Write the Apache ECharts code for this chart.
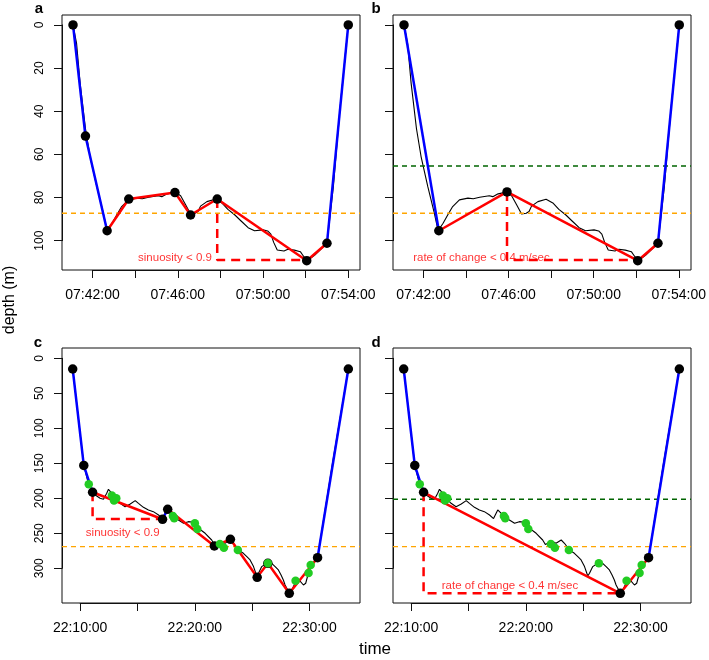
<!DOCTYPE html>
<html><head><meta charset="utf-8">
<script src="https://cdn.jsdelivr.net/npm/echarts@6/dist/echarts.min.js"></script>
<style>html,body{margin:0;padding:0;background:#fff}#c{width:709px;height:660px}</style>
</head><body><div id="c"></div>
<script>
// ---------- Dive 1 (panels a, b) ----------
const dive1TraceTime = ['07:41:05','07:41:15','07:41:25','07:41:40','07:41:53','07:42:12','07:42:30','07:42:41','07:42:55','07:43:08','07:43:22','07:43:41','07:44:05','07:44:20','07:44:38','07:45:05','07:45:15','07:45:30','07:45:53','07:46:08','07:46:22','07:46:36','07:46:49','07:46:57','07:47:04','07:47:22','07:47:45','07:48:04','07:48:21','07:48:40','07:48:59','07:49:18','07:49:36','07:50:00','07:50:13','07:50:22','07:50:30','07:50:40','07:50:59','07:51:10','07:51:28','07:51:45','07:51:54','07:52:04','07:52:25','07:52:44','07:53:00','07:53:18','07:53:36','07:54:00'];
const dive1TraceDepth = [0,8.5,27,48,61,75,87,95.4,91.9,88.1,84.2,81.1,80.3,80.6,79.9,79.2,79.6,78.3,77.5,79.2,83.4,87.6,87.3,86.5,84,81.9,80.8,82.5,85.5,88,91,94,95.4,95,95.5,97,100.8,104.3,104.8,104.0,104.4,105.1,107.2,109.3,106.8,103.8,101.2,75,40,0];
const aPointTime  = ['07:41:05','07:41:40','07:42:41','07:43:42','07:45:52','07:46:36','07:47:51','07:52:03','07:53:00','07:54:00'];
const aPointDepth = [0,51.5,95.4,80.7,77.7,88.1,80.7,109.3,101.2,0];
const bPointTime  = ['07:41:05','07:42:43','07:45:55','07:52:03','07:53:00','07:54:00'];
const bPointDepth = [0,95.4,77.4,109.3,101.2,0];
const dive1Orange = 87.3;
const bGreenLine = 65.4;

// ---------- Dive 2 (panels c, d) ----------
const dive2TraceTime = ['22:09:21','22:10:19','22:10:42','22:11:05','22:11:19','22:11:44','22:12:02','22:12:19','22:12:28','22:12:46','22:13:03','22:13:29','22:13:55','22:14:22','22:14:48','22:15:05','22:15:31','22:15:57','22:16:23','22:16:32','22:16:50','22:17:11','22:17:33','22:17:42','22:18:08','22:18:34','22:19:01','22:19:26','22:19:53','22:20:19','22:20:54','22:21:28','22:21:42','22:21:55','22:22:21','22:22:38','22:23:05','22:23:22','22:23:48','22:24:14','22:24:32','22:24:49','22:25:07','22:25:24','22:25:33','22:25:50','22:26:16','22:26:42','22:27:00','22:27:17','22:27:31','22:27:43','22:27:52','22:28:01','22:28:14','22:28:27','22:28:44','22:29:05','22:29:28','22:29:40','22:29:54','22:30:11','22:30:42','22:32:00','22:33:23'];
const dive2TraceDepth = [15.3,153,178,191.4,195.3,200,201.5,192.9,187.2,192.9,200,207.2,212,208.1,203.4,207.2,212.9,216.7,219.1,216.7,223.9,229,216.7,219.1,226.3,231,235.7,233.4,234.3,242.9,250,259.6,266,264.3,262,264.3,259.6,264.3,273.9,278.6,283.4,288.1,297.6,311,307.1,297.6,292.9,292.9,297.6,302.4,309.6,316.7,323.9,328.6,335.7,331,321.4,316.7,323.9,321.4,307.1,295.6,284.9,150,15.3];
const cPointTime  = ['22:09:21','22:10:19','22:11:05','22:17:11','22:17:38','22:21:42','22:23:06','22:25:26','22:26:22','22:28:14','22:30:42','22:33:23'];
const cPointDepth = [15.3,153,191.4,230,215.7,268.1,258.6,312.9,292.9,335.7,284.9,15.3];
const dPointTime  = ['22:09:21','22:10:19','22:11:05','22:28:14','22:30:42','22:33:23'];
const dPointDepth = [15.3,153,191.4,335.7,284.9,15.3];
const greenDotTime  = ['22:10:45','22:12:46','22:12:57','22:13:09','22:18:05','22:18:12','22:20:00','22:20:13','22:22:11','22:22:32','22:23:45','22:26:22','22:28:47','22:29:55','22:30:06'];
const greenDotDepth = [180,196,203,200,225.3,228.6,235.7,244,265.3,270.7,273.9,292.9,317.7,306.7,295.2];
const dive2Orange = 269;
const dGreenLine = 201.4;

// ---------- Axes ----------
const dive1XRange = ['07:40:34','07:54:33'];
const dive1YRange = [-4.6, 113.6];
const dive1XTicks = ['07:42:00','07:54:00'];
const dive1XTickStep = 120, dive1XLabelStep = 240;
const dive1YTicks = [0, 100], dive1YTickStep = 20;
const dive2XRange = ['22:08:25','22:34:24'];
const dive2YRange = [-14.7, 349.6];
const dive2XTicks = ['22:10:00','22:30:00'];
const dive2XTickStep = 300, dive2XLabelStep = 600;
const dive2YTicks = [0, 300], dive2YTickStep = 50;

// ---------- Annotations ----------
const annText  = ['sinuosity < 0.9','rate of change < 0.4 m/sec','sinuosity < 0.9','rate of change < 0.4 m/sec'];
const annTime  = ['07:45:52','07:44:43','22:13:43','22:18:37'];
const annDepth = [107.9,107.9,250,325.3];
const dashBaseDepth = [109,109,229.6,335.7];

const toSec = s => { const p = s.split(':').map(Number); return p[0]*3600+p[1]*60+p[2]; };
const fmt = v => { const s = Math.round(v); return [Math.floor(s/3600), Math.floor(s%3600/60), s%60].map(n=>String(n).padStart(2,'0')).join(':'); };
const zip = (t, d) => t.map((x,i)=>[toSec(x), d[i]]);

const FONT = 'Liberation Sans, Arial, sans-serif';
const BLUE = '#0000FF', RED = '#FF0000', ORANGE = '#FFA500', DKGREEN = '#006400', GREEN = '#22CC22';

const W = 298, H = 255;
const panels = [
  {box:{left:62, top:15},  dive:1, pts:zip(aPointTime,aPointDepth), blue:[[0,1,2],[8,9]], red:[[2,3,4,5,6,7,8]], dash:[6,7], hl:[[dive1Orange,ORANGE]], green:false, yLab:true},
  {box:{left:393,top:15},  dive:1, pts:zip(bPointTime,bPointDepth), blue:[[0,1],[4,5]], red:[[1,2,3,4]], dash:[2,3], hl:[[dive1Orange,ORANGE],[bGreenLine,DKGREEN]], green:false, yLab:false},
  {box:{left:62, top:348}, dive:2, pts:zip(cPointTime,cPointDepth), blue:[[0,1,2],[3,4],[10,11]], red:[[2,3],[4,5,6,7,8,9,10]], dash:[2,3], hl:[[dive2Orange,ORANGE]], green:true, yLab:true},
  {box:{left:393,top:348}, dive:2, pts:zip(dPointTime,dPointDepth), blue:[[0,1,2],[4,5]], red:[[2,3,4]], dash:[2,3], hl:[[dive2Orange,ORANGE],[dGreenLine,DKGREEN]], green:true, yLab:false}
];

const grid = [], xAxis = [], yAxis = [], series = [];
const noAxis = (o) => Object.assign({type:'value', show:false, splitLine:{show:false}}, o);

panels.forEach((p, i) => {
  const d1 = p.dive === 1;
  const xr = (d1 ? dive1XRange : dive2XRange).map(toSec);
  const yr = d1 ? dive1YRange : dive2YRange;
  const xt = (d1 ? dive1XTicks : dive2XTicks).map(toSec);
  const xStep = d1 ? dive1XTickStep : dive2XTickStep;
  const xLab = d1 ? dive1XLabelStep : dive2XLabelStep;
  const yt = d1 ? dive1YTicks : dive2YTicks;
  const yStep = d1 ? dive1YTickStep : dive2YTickStep;
  const trace = d1 ? zip(dive1TraceTime, dive1TraceDepth) : zip(dive2TraceTime, dive2TraceDepth);

  grid[i] = {left:p.box.left, top:p.box.top, width:W, height:H, show:true, borderColor:'#111', borderWidth:1, backgroundColor:'transparent'};
  xAxis[i] = noAxis({gridIndex:i, min:xr[0], max:xr[1]});
  yAxis[i] = noAxis({gridIndex:i, min:yr[0], max:yr[1], inverse:true});

  const gx = 4 + i;
  grid[gx] = {left:p.box.left + (xt[0]-xr[0])/(xr[1]-xr[0])*W, width:(xt[1]-xt[0])/(xr[1]-xr[0])*W, top:p.box.top, height:H};
  xAxis[gx] = {type:'value', gridIndex:gx, min:xt[0], max:xt[1], interval:xStep, position:'bottom',
    splitLine:{show:false},
    axisLine:{show:true, lineStyle:{color:'#111', width:1}},
    axisTick:{show:true, length:8, lineStyle:{color:'#111', width:1}},
    axisLabel:{show:true, margin:18, color:'#000', fontFamily:FONT, fontSize:14, showMinLabel:true, showMaxLabel:true,
      formatter: v => ((Math.round(v) - xt[0]) % xLab === 0 ? fmt(v) : '')}};
  yAxis[gx] = noAxis({gridIndex:gx, min:0, max:1});

  const gy = 8 + i;
  grid[gy] = {left:p.box.left, width:W, top:p.box.top + (yt[0]-yr[0])/(yr[1]-yr[0])*H, height:(yt[1]-yt[0])/(yr[1]-yr[0])*H};
  xAxis[gy] = noAxis({gridIndex:gy, min:0, max:1});
  yAxis[gy] = {type:'value', gridIndex:gy, min:yt[0], max:yt[1], interval:yStep, inverse:true, position:'left',
    splitLine:{show:false},
    axisLine:{show:true, lineStyle:{color:'#111', width:1}},
    axisTick:{show:true, length:8, lineStyle:{color:'#111', width:1}},
    axisLabel:{show:p.yLab, rotate:90, margin:16, color:'#000', fontFamily:FONT, fontSize:12, showMinLabel:true, showMaxLabel:true}};

  const base = {xAxisIndex:i, yAxisIndex:i, animation:false, silent:true};

  // black trace
  series.push(Object.assign({}, base, {type:'line', data:trace, symbol:'none', z:2,
    itemStyle:{color:'#000'}, lineStyle:{color:'#000', width:1.1}}));

  // horizontal reference lines (span the whole panel)
  p.hl.forEach(h => series.push(Object.assign({}, base, {type:'line', symbol:'none', z:3,
    data:[[xr[0], h[0]], [xr[1], h[0]]], itemStyle:{color:h[1]}, lineStyle:{color:h[1], width:1.4, type:[5,4]}})));

  p.blue.forEach(seg => series.push(Object.assign({}, base, {type:'line', symbol:'none', z:4,
    data:seg.map(k => p.pts[k]), itemStyle:{color:BLUE}, lineStyle:{color:BLUE, width:2.5}})));
  p.red.forEach(seg => series.push(Object.assign({}, base, {type:'line', symbol:'none', z:4,
    data:seg.map(k => p.pts[k]), itemStyle:{color:RED}, lineStyle:{color:RED, width:2.5}})));

  series.push(Object.assign({}, base, {type:'scatter', z:6, symbolSize:1, itemStyle:{color:'transparent'},
    data:[[toSec(annTime[i]), annDepth[i]]],
    label:{show:true, position:'inside', formatter:annText[i], color:RED, fontFamily:FONT, fontSize:11.5}}));

  const a = p.pts[p.dash[0]], b = p.pts[p.dash[1]];
  series.push(Object.assign({}, base, {type:'line', symbol:'none', z:7,
    data:[a, [a[0], dashBaseDepth[i]], [b[0], dashBaseDepth[i]]],
    itemStyle:{color:RED}, lineStyle:{color:RED, width:2.5, type:[9,6]}}));

  series.push(Object.assign({}, base, {type:'scatter', z:8, symbol:'circle', symbolSize:9.5,
    data:p.pts, itemStyle:{color:'#000', opacity:1}}));

  if (p.green) series.push(Object.assign({}, base, {type:'scatter', z:9, symbol:'circle', symbolSize:8.5,
    data:zip(greenDotTime, greenDotDepth), itemStyle:{color:GREEN, opacity:1}}));
});

const graphic = [
  {type:'text', x:10, y:300, rotation:Math.PI/2, style:{text:'depth (m)', font:'16px ' + FONT, fill:'#000', textAlign:'center', textVerticalAlign:'middle'}},
  {type:'text', x:375, y:649, style:{text:'time', font:'17px ' + FONT, fill:'#000', textAlign:'center', textVerticalAlign:'middle'}},
  {type:'text', x:39, y:9, style:{text:'a', font:'bold 15px ' + FONT, fill:'#000', textAlign:'center', textVerticalAlign:'middle'}},
  {type:'text', x:376, y:9, style:{text:'b', font:'bold 15px ' + FONT, fill:'#000', textAlign:'center', textVerticalAlign:'middle'}},
  {type:'text', x:38, y:343, style:{text:'c', font:'bold 15px ' + FONT, fill:'#000', textAlign:'center', textVerticalAlign:'middle'}},
  {type:'text', x:376, y:343, style:{text:'d', font:'bold 15px ' + FONT, fill:'#000', textAlign:'center', textVerticalAlign:'middle'}}
];

const chart = echarts.init(document.getElementById('c'), null, {renderer:'canvas'});
chart.setOption({animation:false, backgroundColor:'#fff', grid, xAxis, yAxis, series, graphic});
</script></body></html>
